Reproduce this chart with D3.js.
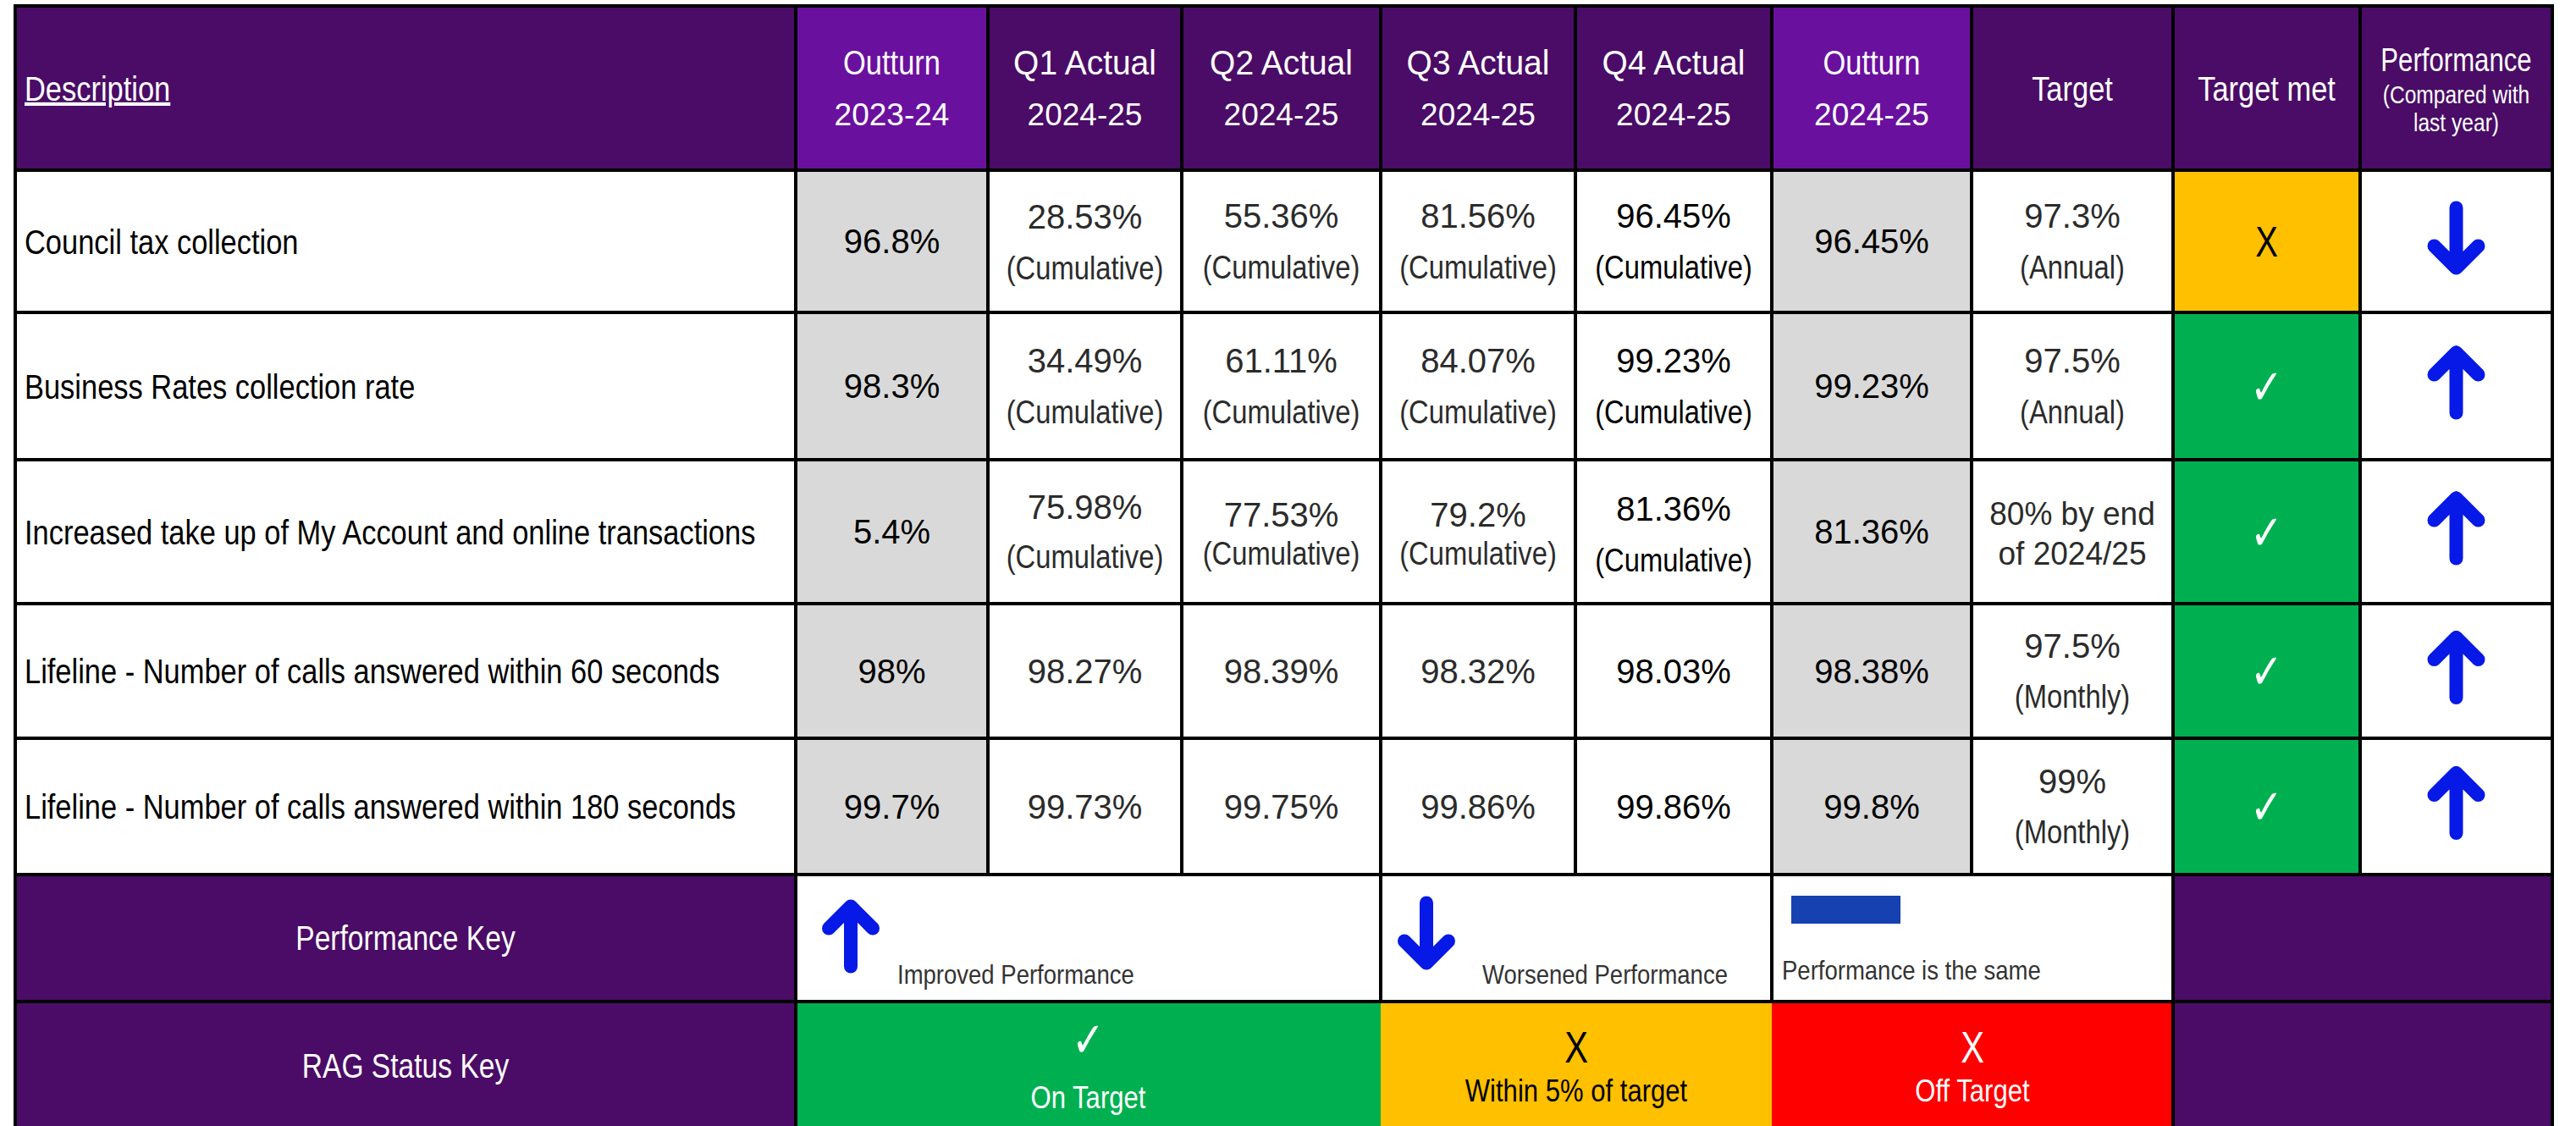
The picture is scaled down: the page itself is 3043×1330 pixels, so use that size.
<!DOCTYPE html>
<html>
<head>
<meta charset="utf-8">
<script src="https://cdn.jsdelivr.net/npm/d3@7"></script>
<style>
  body { margin: 0; background: #fff; }
  svg { display: block; }
</style>
</head>
<body>
<svg id="kpi-table" width="3043" height="1330"></svg>
<script>
// Table content
const headerLabels = [
  ["Description"],
  ["Outturn", "2023-24"],
  ["Q1 Actual", "2024-25"],
  ["Q2 Actual", "2024-25"],
  ["Q3 Actual", "2024-25"],
  ["Q4 Actual", "2024-25"],
  ["Outturn", "2024-25"],
  ["Target"],
  ["Target met"],
  ["Performance", "(Compared with", "last year)"],
];
const descriptions = [
  "Council tax collection",
  "Business Rates collection rate",
  "Increased take up of My Account and online transactions",
  "Lifeline - Number of calls answered within 60 seconds",
  "Lifeline - Number of calls answered within 180 seconds",
];
const outturn2324 = ["96.8%", "98.3%", "5.4%", "98%", "99.7%"];
const q1Actual = ["28.53%", "34.49%", "75.98%", "98.27%", "99.73%"];
const q2Actual = ["55.36%", "61.11%", "77.53%", "98.39%", "99.75%"];
const q3Actual = ["81.56%", "84.07%", "79.2%", "98.32%", "99.86%"];
const q4Actual = ["96.45%", "99.23%", "81.36%", "98.03%", "99.86%"];
const outturn2425 = ["96.45%", "99.23%", "81.36%", "98.38%", "99.8%"];
const quarterNotes = ["(Cumulative)", "(Cumulative)", "(Cumulative)", "", ""];
const targets = [
  ["97.3%", "(Annual)"],
  ["97.5%", "(Annual)"],
  ["80% by end", "of 2024/25"],
  ["97.5%", "(Monthly)"],
  ["99%", "(Monthly)"],
];
const targetMet = ["amber", "green", "green", "green", "green"];
const performance = ["down", "up", "up", "up", "up"];

const performanceKey = [
  { symbol: "up", label: "Improved Performance" },
  { symbol: "down", label: "Worsened Performance" },
  { symbol: "same", label: "Performance is the same" },
];
const ragKey = [
  { status: "green", mark: "\u2713", label: "On Target" },
  { status: "amber", mark: "X", label: "Within 5% of target" },
  { status: "red", mark: "X", label: "Off Target" },
];

// Styling
const darkPurple = "#4a0c66";
const lightPurple = "#6a109e";
const outturnGrey = "#d9d9d9";
const arrowBlue = "#0619e6";
const sameBlue = "#1641b0";
const ragColors = { green: "#00b050", amber: "#ffc000", red: "#ff0000" };
const ragText = { green: "#ffffff", amber: "#000000", red: "#ffffff" };
const baseFont = "'Liberation Sans', Arial, sans-serif";
const checkFont = "'DejaVu Sans', sans-serif";
const isNumber = (s) => /^[\d.%\-]+$/.test(s);
// words are drawn condensed, figures at full width
const squeezeFor = (s) => (isNumber(s) ? 1 : /\d/.test(s) ? 0.95 : 0.84);

// Grid geometry
const colKeys = ["desc", "out2324", "q1", "q2", "q3", "q4", "out2425", "target", "met", "perf"];
const colEdges = [18, 940, 1167, 1396, 1631, 1861, 2093, 2329, 2567, 2788, 3015];
const rowEdges = [7, 201, 369, 543, 713, 872, 1033, 1183, 1334];
const xEdge = d3.scaleLinear().domain(d3.range(colEdges.length)).range(colEdges);
const yEdge = d3.scaleLinear().domain(d3.range(rowEdges.length)).range(rowEdges);
const col = (key) => colKeys.indexOf(key);

const svg = d3.select("#kpi-table");

//Cell backgrounds
const cells = [];
colKeys.forEach((k, i) =>
  cells.push({ r: 0, c0: i, c1: i + 1, fill: k.startsWith("out") ? lightPurple : darkPurple })
);
descriptions.forEach((d, i) => {
  colKeys.forEach((k, j) => {
    let fill = "#ffffff";
    if (k.startsWith("out")) fill = outturnGrey;
    if (k === "met") fill = ragColors[targetMet[i]];
    cells.push({ r: i + 1, c0: j, c1: j + 1, fill });
  });
});
const keySpans = [[1, 4], [4, 6], [6, 8]];
cells.push({ r: 6, c0: 0, c1: 1, fill: darkPurple });
keySpans.forEach(([a, b]) => cells.push({ r: 6, c0: a, c1: b, fill: "#ffffff" }));
cells.push({ r: 6, c0: 8, c1: 10, fill: darkPurple });
cells.push({ r: 7, c0: 0, c1: 1, fill: darkPurple });
keySpans.forEach(([a, b], i) => cells.push({ r: 7, c0: a, c1: b, fill: ragColors[ragKey[i].status] }));
cells.push({ r: 7, c0: 8, c1: 10, fill: darkPurple });

svg
  .append("g")
  .selectAll("rect")
  .data(cells)
  .enter()
  .append("rect")
  .attr("x", (d) => xEdge(d.c0))
  .attr("y", (d) => yEdge(d.r))
  .attr("width", (d) => xEdge(d.c1) - xEdge(d.c0))
  .attr("height", (d) => yEdge(d.r + 1) - yEdge(d.r))
  .attr("fill", (d) => d.fill);

//Grid lines
const lines = [];
d3.range(0, 8).forEach((r) => lines.push({ x1: 0, x2: 10, y1: r, y2: r }));
[0, 10].forEach((c) => lines.push({ x1: c, x2: c, y1: 0, y2: 8 }));
d3.range(1, 10).forEach((c) => lines.push({ x1: c, x2: c, y1: 0, y2: 6 }));
[1, 4, 6, 8].forEach((c) => lines.push({ x1: c, x2: c, y1: 6, y2: 7 }));
[1, 8].forEach((c) => lines.push({ x1: c, x2: c, y1: 7, y2: 8 }));

svg
  .append("g")
  .selectAll("line")
  .data(lines)
  .enter()
  .append("line")
  .attr("x1", (d) => xEdge(d.x1))
  .attr("x2", (d) => xEdge(d.x2))
  .attr("y1", (d) => yEdge(d.y1))
  .attr("y2", (d) => yEdge(d.y2))
  .attr("stroke", "#000")
  .attr("stroke-width", 4)
  .attr("stroke-linecap", "square");

//Text helper: y is the visual centre of the capitals
const addText = (g, str, x, y, size, color, anchor = "middle", opts = {}) => {
  const sx = opts.squeeze ?? squeezeFor(str);
  return g
    .append("text")
    .attr("transform", `translate(${x},${y + 0.358 * size}) scale(${sx},1)`)
    .attr("text-anchor", anchor)
    .attr("font-family", opts.font || baseFont)
    .attr("font-size", size)
    .attr("fill", color)
    .text(str);
};

//Header
const header = svg.append("g").attr("class", "header");
const headerMid = yEdge(0.5);
headerLabels.forEach((labels, i) => {
  const cx = xEdge(i + 0.5);
  if (i === 0) {
    addText(header, labels[0], 29, headerMid, 41, "#fff", "start").attr("text-decoration", "underline");
    return;
  }
  if (labels.length === 3) {
    addText(header, labels[0], cx, 70, 38, "#fff", "middle", { squeeze: 0.82 });
    addText(header, labels[1], cx, 111, 30, "#fff", "middle", { squeeze: 0.82 });
    addText(header, labels[2], cx, 144, 30, "#fff", "middle", { squeeze: 0.82 });
    return;
  }
  const offsets = labels.length === 1 ? [0] : [-31, 31];
  labels.forEach((l, k) =>
    addText(header, l, cx, headerMid + offsets[k], isNumber(l) ? 37 : 41, "#fff")
  );
});

//Data rows
const lineOffsets = {
  default: [-30, 30],
  "0-q1": [-29, 31],
  "2-q1": [-29, 29],
  "2-q2": [-20, 25],
  "2-q3": [-20, 25],
  "2-q4": [-27, 33],
  "2-target": [-22, 25],
};
const body = svg.append("g").attr("class", "body");
descriptions.forEach((desc, i) => {
  const mid = yEdge(i + 1.5);
  addText(body, desc, 29, mid, 41, "#000", "start", { squeeze: 0.84 });
  const values = {
    out2324: [outturn2324[i]],
    q1: [q1Actual[i], quarterNotes[i]],
    q2: [q2Actual[i], quarterNotes[i]],
    q3: [q3Actual[i], quarterNotes[i]],
    q4: [q4Actual[i], quarterNotes[i]],
    out2425: [outturn2425[i]],
    target: targets[i],
  };
  Object.entries(values).forEach(([key, vals]) => {
    const lines = vals.filter((v) => v !== "");
    const light = ["q1", "q2", "q3", "target"].includes(key);
    const offs = lines.length === 1 ? [0] : lineOffsets[`${i}-${key}`] || lineOffsets.default;
    lines.forEach((v, k) =>
      addText(body, v, xEdge(col(key) + 0.5), mid + offs[k], isNumber(v) ? 40 : 39, light ? "#2b2b2b" : "#000")
    );
  });
  //RAG mark
  const met = targetMet[i];
  if (met === "green") {
    addText(body, "\u2713", xEdge(col("met") + 0.5), mid, 58, ragText[met], "middle", { font: checkFont, squeeze: 0.8 });
  } else {
    addText(body, "X", xEdge(col("met") + 0.5), mid, 50, ragText[met], "middle", { squeeze: 0.8 });
  }
});

//Arrows
const arrowPath = (dir) => {
  const h = 35.5;
  const a = 26;
  return dir === "up"
    ? `M0,${h}L0,${-h}M${-a},${-h + a}L0,${-h}L${a},${-h + a}`
    : `M0,${-h}L0,${h}M${-a},${h - a}L0,${h}L${a},${h - a}`;
};
const drawArrow = (g, dir, x, y) =>
  g
    .append("path")
    .attr("transform", `translate(${x},${y})`)
    .attr("d", arrowPath(dir))
    .attr("fill", "none")
    .attr("stroke", arrowBlue)
    .attr("stroke-width", 16)
    .attr("stroke-linecap", "round")
    .attr("stroke-linejoin", "round");

const arrows = svg.append("g").attr("class", "arrows");
performance.forEach((dir, i) => drawArrow(arrows, dir, xEdge(col("perf") + 0.5), yEdge(i + 1.5) - 4));

//Performance key row
const keys = svg.append("g").attr("class", "keys");
addText(keys, "Performance Key", xEdge(0.5), yEdge(6.5), 40, "#fff");
const keyIcons = [
  { x: 1005, y: 1106, labelX: 1060, labelY: 1151 },
  { x: 1685, y: 1102, labelX: 1751, labelY: 1151 },
  { x: 2116, y: 1058, labelX: 2105, labelY: 1146 },
];
performanceKey.forEach((k, i) => {
  const pos = keyIcons[i];
  if (k.symbol === "same") {
    keys.append("rect").attr("x", pos.x).attr("y", pos.y).attr("width", 129).attr("height", 33).attr("fill", sameBlue);
  } else {
    drawArrow(keys, k.symbol, pos.x, pos.y);
  }
  addText(keys, k.label, pos.labelX, pos.labelY, 32, "#333", "start", { squeeze: 0.86 });
});

//RAG status key row
addText(keys, "RAG Status Key", xEdge(0.5), yEdge(7.5), 40, "#fff");
const ragKeyOffsets = [[1227, 1296], [1236, 1288], [1236, 1288]];
ragKey.forEach((k, i) => {
  const [a, b] = keySpans[i];
  const cx = (xEdge(a) + xEdge(b)) / 2;
  const color = ragText[k.status];
  if (k.mark === "X") {
    addText(keys, k.mark, cx, ragKeyOffsets[i][0], 52, color, "middle", { squeeze: 0.8 });
  } else {
    addText(keys, k.mark, cx, ragKeyOffsets[i][0], 58, color, "middle", { font: checkFont, squeeze: 0.8 });
  }
  addText(keys, k.label, cx, ragKeyOffsets[i][1], 37, color, "middle", { squeeze: 0.84 });
});
</script>
</body>
</html>
